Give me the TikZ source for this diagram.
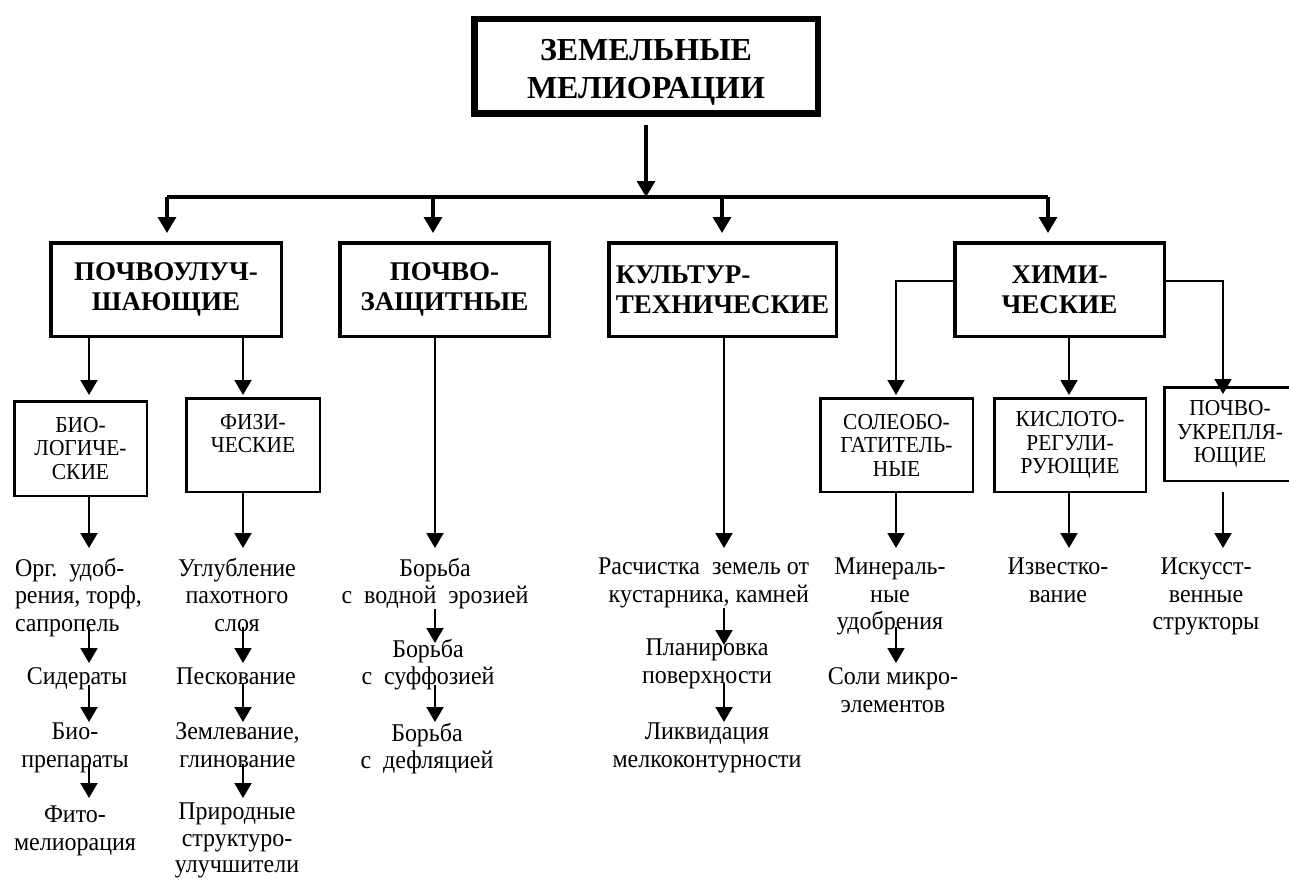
\documentclass[tikz,border=0pt]{standalone}
\usepackage{fontspec}
\setmainfont{Liberation Serif}
\newfontfamily\narrowfont{Liberation Serif}[FakeStretch=0.94]
\usetikzlibrary{arrows.meta}
\begin{document}
\begin{tikzpicture}[x=1pt,y=-1pt,
  arrowtip/.style={-{Triangle[width=17pt,length=15pt]}},
  arr/.style={line width=2pt,arrowtip},
  arrthick/.style={line width=3.2pt,-{Triangle[width=18pt,length=16pt]}},
  arrthin/.style={line width=1.6pt,arrowtip},
  titlebox/.style={draw,line width=6.5pt,minimum width=343.5,minimum height=94.5,inner sep=0,align=center,font=\bfseries\fontsize{32}{38}\selectfont},
  mainbox/.style={draw,line width=3.5pt,minimum height=93.5,inner sep=0,align=center,font=\bfseries\fontsize{27}{30}\selectfont},
  subbox/.style={draw,line width=2.5pt,minimum height=93.5,inner sep=0,align=center,font=\narrowfont\fontsize{22.8}{23.5}\selectfont},
  txt/.style={inner sep=0,outer sep=0,anchor=north,align=center,font=\narrowfont\fontsize{25.5}{27.5}\selectfont},
]
\useasboundingbox (0,0) rectangle (1289,880);
\clip (0,0) rectangle (1289,880);

% boxes
\node[titlebox] (top) at (646,66.5) {\rule{0pt}{32pt}ЗЕМЕЛЬНЫЕ\\МЕЛИОРАЦИИ};
\node[mainbox,minimum width=230.5] (A) at (166,289.5) {ПОЧВОУЛУЧ-\\ШАЮЩИЕ};
\node[mainbox,minimum width=209.5] (B) at (444.5,289.5) {ПОЧВО-\\ЗАЩИТНЫЕ};
\node[mainbox,minimum width=227.5,align=left] (C) at (722.5,289.5) {КУЛЬТУР-\\ТЕХНИЧЕСКИЕ};
\node[mainbox,minimum width=209.5] (D) at (1059.5,289.5) {ХИМИ-\\ЧЕСКИЕ};

\node[subbox,minimum width=132.5,minimum height=94.5] (bio) at (80.5,448.5) {БИО-\\ЛОГИЧЕ-\\СКИЕ};
\node[subbox,minimum width=133.5] (fiz) at (253,445) {ФИЗИ-\\ЧЕСКИЕ\\~};
\node[subbox,minimum width=152.5] (sol) at (896.5,445) {СОЛЕОБО-\\ГАТИТЕЛЬ-\\НЫЕ};
\node[subbox,minimum width=151.5] (kis) at (1070,445) {КИСЛОТО-\\РЕГУЛИ-\\РУЮЩИЕ};
\node[subbox,minimum width=131.5] (ukr) at (1230,434) {ПОЧВО-\\УКРЕПЛЯ-\\ЮЩИЕ};

% texts
\node[txt,anchor=north west,align=left] (org) at (15,558) {Орг.~~удоб-\\рения, торф,\\сапропель};
\node[txt] (sid) at (77,668) {Сидераты};
\node[txt] (bio2) at (75,723) {Био-\\препараты};
\node[txt] (fito) at (75,806) {Фито-\\мелиорация};

\node[txt] (ugl) at (237,558) {Углубление\\пахотного\\слоя};
\node[txt] (pesk) at (236,668) {Пескование};
\node[txt] (zeml) at (237.5,723) {Землевание,\\глинование};
\node[txt,font=\narrowfont\fontsize{25.5}{26.5}\selectfont] (prir) at (237,803) {Природные\\структуро-\\улучшители};

\node[txt] (borb1) at (435,558) {Борьба\\с~~водной~~эрозией};
\node[txt] (borb2) at (428,639) {Борьба\\с~~суффозией};
\node[txt] (borb3) at (427,723) {Борьба\\с~~дефляцией};

\node[txt,anchor=north east,align=right] (rasch) at (809,558) {Расчистка~~земель от\\кустарника, камней};
\node[txt] (plan) at (707,639) {Планировка\\поверхности};
\node[txt] (likv) at (707,723) {Ликвидация\\мелкоконтурности};

\node[txt] (min) at (890,558) {Минераль-\\ные\\удобрения};
\node[txt] (soli) at (893,668) {Соли микро-\\элементов};
\node[txt] (izv) at (1058,558) {Известко-\\вание};
\node[txt] (isk) at (1206,558) {Искусст-\\венные\\структоры};

% coordinates
\coordinate (bar) at (646,197);
\coordinate (b1) at (167,197);
\coordinate (b2) at (433,197);
\coordinate (b3) at (722,197);
\coordinate (b4) at (1048,197);
\coordinate (x1) at (89,0);
\coordinate (x2) at (243,0);
\coordinate (x3) at (435,0);
\coordinate (x4) at (724,0);
\coordinate (x5) at (896,0);
\coordinate (x6) at (1069,0);
\coordinate (x7) at (1223,0);

% top level
\draw[arrthick,shorten <=8pt] (top.south) -- (bar);
\draw[line width=4pt] (b1) -- (b4);
\draw[arrthick,shorten >=8pt] (b1) -- (b1 |- A.north);
\draw[arrthick,shorten >=8pt] (b2) -- (b2 |- B.north);
\draw[arrthick,shorten >=8pt] (b3) -- (b3 |- C.north);
\draw[arrthick,shorten >=8pt] (b4) -- (b4 |- D.north);

% column 1
\draw[arr,shorten >=5pt] (A.south -| x1) -- (bio.north -| x1);
\draw[arr,shorten >=10pt] (bio.south -| x1) -- (org.north -| x1);
\draw[arr,shorten <=-10pt,shorten >=5pt] (org.south -| x1) -- (sid.north -| x1);
\draw[arr,shorten <=-5.5pt,shorten >=1pt] (sid.south -| x1) -- (bio2.north -| x1);
\draw[arr,shorten <=-9pt,shorten >=8pt] (bio2.south -| x1) -- (fito.north -| x1);

% column 2
\draw[arr,shorten >=2pt] (A.south -| x2) -- (fiz.north -| x2);
\draw[arr,shorten >=10pt] (fiz.south -| x2) -- (ugl.north -| x2);
\draw[arr,shorten <=-5pt,shorten >=5pt] (ugl.south -| x2) -- (pesk.north -| x2);
\draw[arr,shorten <=-2pt,shorten >=1pt] (pesk.south -| x2) -- (zeml.north -| x2);
\draw[arr,shorten <=-4pt,shorten >=5pt] (zeml.south -| x2) -- (prir.north -| x2);

% column 3
\draw[arr,shorten >=10pt] (B.south -| x3) -- (borb1.north -| x3);
\draw[arr,shorten >=-4pt] (borb1.south -| x3) -- (borb2.north -| x3);
\draw[arr,shorten <=-5.5pt,shorten >=1pt] (borb2.south -| x3) -- (borb3.north -| x3);

% column 4
\draw[arr,shorten >=10pt] (C.south -| x4) -- (rasch.north -| x4);
\draw[arr,shorten >=-6pt] (rasch.south -| x4) -- (plan.north -| x4);
\draw[arr,shorten <=-5.5pt,shorten >=1pt] (plan.south -| x4) -- (likv.north -| x4);

% chemical
\draw[arrthin,shorten >=2pt] ([yshift=8.5pt]D.west) -| (x5 |- sol.north);
\draw[arr,shorten >=2pt] (D.south -| x6) -- (x6 |- kis.north);
\draw[arrthin,shorten >=-8pt] ([yshift=8.5pt]D.east) -| (x7 |- ukr.north);
\draw[arr,shorten >=10pt] (sol.south -| x5) -- (min.north -| x5);
\draw[arr,shorten <=-8pt,shorten >=5pt] (min.south -| x5) -- (soli.north -| x5);
\draw[arr,shorten >=10pt] (kis.south -| x6) -- (izv.north -| x6);
\draw[arr,shorten <=10pt,shorten >=10pt] (ukr.south -| x7) -- (isk.north -| x7);
\end{tikzpicture}
\end{document}
